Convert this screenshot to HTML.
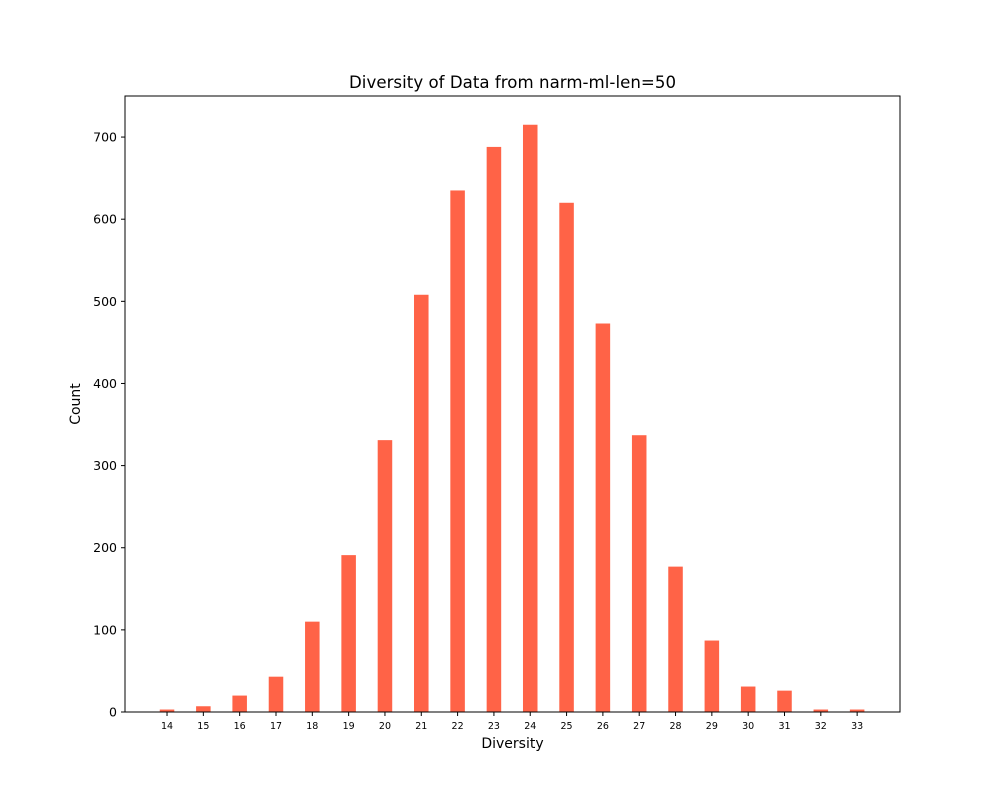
<!DOCTYPE html>
<html><head><meta charset="utf-8"><style>
html,body{margin:0;padding:0;background:#fff;}
svg text{font-family:"DejaVu Sans","Liberation Sans",sans-serif;fill:#000;}
</style></head><body>
<svg id="chart" width="1000" height="800" xmlns="http://www.w3.org/2000/svg">
<rect width="1000" height="800" fill="#fff"/>
<text x="512.5" y="88" font-size="16.6" text-anchor="middle" textLength="327">Diversity of Data from narm-ml-len=50</text>
<g id="bars"></g>
<g id="axes"></g>
<rect x="125" y="96" width="775" height="616" fill="none" stroke="#000" stroke-width="1"/>
<text x="512.5" y="748" font-size="14" text-anchor="middle">Diversity</text>
<text x="80" y="404" font-size="14" text-anchor="middle" transform="rotate(-90 80 404)">Count</text>
</svg>
<script>
const categories = [14,15,16,17,18,19,20,21,22,23,24,25,26,27,28,29,30,31,32,33];
const counts = [3,7,20,43,110,191,331,508,635,688,715,620,473,337,177,87,31,26,3,3];
const yTicks = [0,100,200,300,400,500,600,700];

const L=125,R=900,T=96,B=712;
const xMin=12.843,xMax=34.18,yMax=750;
const xs=v=>L+(v-xMin)/(xMax-xMin)*(R-L);
const ys=v=>B-v/yMax*(B-T);
const NS="http://www.w3.org/2000/svg";
const bars=document.getElementById('bars'),axes=document.getElementById('axes');
const bw=0.4*(xs(1)-xs(0));
categories.forEach((c,i)=>{
  const r=document.createElementNS(NS,'rect');
  r.setAttribute('x',xs(c)-bw/2);r.setAttribute('y',ys(counts[i]));
  r.setAttribute('width',bw);r.setAttribute('height',B-ys(counts[i]));
  r.setAttribute('fill','#ff6347');
  
  
  bars.appendChild(r);
  const t=document.createElementNS(NS,'line');
  t.setAttribute('x1',xs(c));t.setAttribute('x2',xs(c));t.setAttribute('y1',B);t.setAttribute('y2',B+4);
  t.setAttribute('stroke','#000');
  
  
  axes.appendChild(t);
  const l=document.createElementNS(NS,'text');
  l.setAttribute('x',xs(c));l.setAttribute('y',B+17);l.setAttribute('font-size','9.5');l.setAttribute('text-anchor','middle');
  l.textContent=c;
  
  
  axes.appendChild(l);
});
yTicks.forEach(v=>{
  const t=document.createElementNS(NS,'line');
  t.setAttribute('x1',L-4);t.setAttribute('x2',L);t.setAttribute('y1',ys(v));t.setAttribute('y2',ys(v));
  t.setAttribute('stroke','#000');
  
  
  axes.appendChild(t);
  const l=document.createElementNS(NS,'text');
  l.setAttribute('x',L-8);l.setAttribute('y',ys(v)+4.5);l.setAttribute('font-size','12.5');l.setAttribute('text-anchor','end');
  l.textContent=v;
  
  
  axes.appendChild(l);
});
</script>
</body></html>
